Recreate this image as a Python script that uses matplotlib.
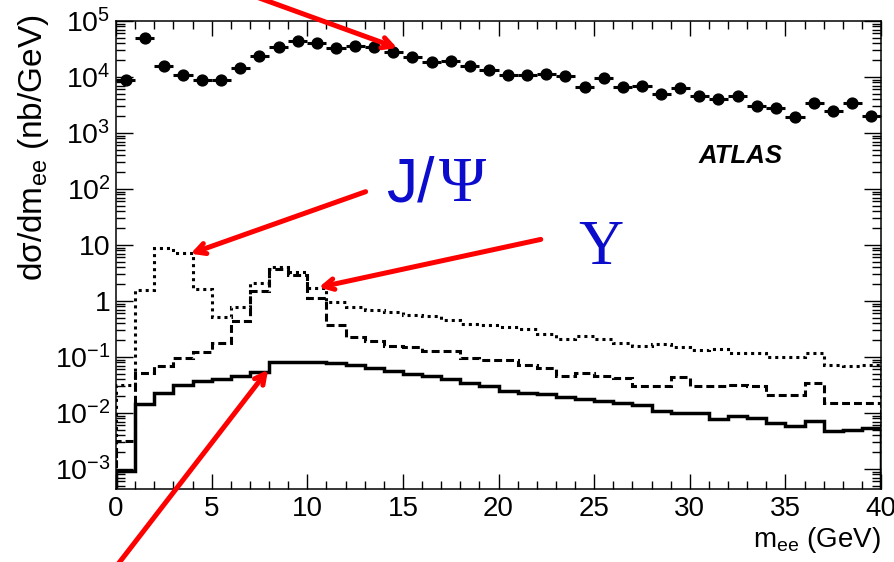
import numpy as np
import matplotlib
matplotlib.use("Agg")
import matplotlib.pyplot as plt
from matplotlib.ticker import MultipleLocator, LogLocator, FixedLocator, FuncFormatter, NullFormatter

plt.rcParams['font.family'] = ['Liberation Sans', 'DejaVu Sans']
plt.rcParams['mathtext.fontset'] = 'custom'
plt.rcParams['mathtext.rm'] = 'Liberation Sans'
plt.rcParams['mathtext.it'] = 'Liberation Sans:italic'

# 1 GeV bins from 0 to 40 GeV
bin_edges = np.arange(0, 41, 1)
bin_centers = 0.5 * (bin_edges[:-1] + bin_edges[1:])

# measured dielectron cross section (nb/GeV)
data_xsec = [8.8e3, 5.0e4, 1.6e4, 1.07e4, 8.8e3, 8.8e3, 1.43e4, 2.37e4, 3.5e4, 4.34e4,
             4.1e4, 3.3e4, 3.55e4, 3.4e4, 2.8e4, 2.3e4, 1.87e4, 1.93e4, 1.6e4, 1.33e4,
             1.09e4, 1.09e4, 1.13e4, 1.05e4, 6.5e3, 9.5e3, 6.5e3, 6.9e3, 4.9e3, 6.3e3,
             4.65e3, 4.05e3, 4.65e3, 3.0e3, 2.75e3, 1.95e3, 3.4e3, 2.45e3, 3.4e3, 2.0e3]

# J/psi contribution (dotted)
jpsi_xsec = [0.032, 1.6, 8.9, 7.3, 1.64, 0.51, 0.77, 2.07, 4.1, 3.25,
             1.73, 0.95, 0.77, 0.69, 0.64, 0.56, 0.54, 0.45, 0.39, 0.37,
             0.35, 0.32, 0.26, 0.21, 0.24, 0.21, 0.176, 0.16, 0.17, 0.148,
             0.133, 0.139, 0.117, 0.117, 0.099, 0.099, 0.117, 0.072, 0.068, 0.072]

# Upsilon contribution (dashed)
upsilon_xsec = [0.0032, 0.051, 0.070, 0.097, 0.121, 0.18, 0.44, 1.53, 3.7, 2.9,
                1.15, 0.38, 0.23, 0.19, 0.158, 0.152, 0.13, 0.13, 0.095, 0.089,
                0.089, 0.072, 0.063, 0.046, 0.051, 0.046, 0.042, 0.030, 0.030, 0.044,
                0.030, 0.030, 0.032, 0.030, 0.021, 0.021, 0.035, 0.0149, 0.0149, 0.0149]

# Drell-Yan contribution (solid)
dy_xsec = [9.3e-4, 0.0142, 0.023, 0.032, 0.037, 0.041, 0.046, 0.054, 0.080, 0.083,
           0.082, 0.079, 0.072, 0.063, 0.056, 0.049, 0.046, 0.040, 0.035, 0.030,
           0.025, 0.023, 0.022, 0.019, 0.0178, 0.0166, 0.0149, 0.0139, 0.011, 0.0102,
           0.0100, 0.0077, 0.0089, 0.0080, 0.0067, 0.0059, 0.0072, 0.0048, 0.0049, 0.0053]

y_decades = [-3, -2, -1, 0, 1, 2, 3, 4, 5]

fig = plt.figure(figsize=(8.94, 5.62), dpi=100)
ax = fig.add_axes([0.1298, 0.1299, 0.8557, 0.8327])

ax.stairs(jpsi_xsec, bin_edges, color='black', lw=2.2, linestyle=(0, (1.0, 1.3)))
ax.stairs(upsilon_xsec, bin_edges, color='black', lw=2.2, linestyle=(0, (2.6, 1.3)))
ax.stairs(dy_xsec, bin_edges, color='black', lw=2.5, linestyle='-')

ax.errorbar(bin_centers, data_xsec, xerr=0.5, fmt='o', color='black', ms=7.8,
            elinewidth=2.2, capsize=0)

ax.set_yscale('log')
ax.set_xlim(0, 40)
ax.set_ylim(10 ** -3.357, 1e5)

ax.xaxis.set_major_locator(MultipleLocator(5))
ax.xaxis.set_minor_locator(MultipleLocator(1))
ax.yaxis.set_major_locator(FixedLocator([10.0 ** d for d in y_decades]))
ax.yaxis.set_minor_locator(LogLocator(base=10, subs=np.arange(2, 10), numticks=100))
ax.yaxis.set_minor_formatter(NullFormatter())


def decade_label(v, pos):
    n = int(round(np.log10(v)))
    if n == 0:
        return '1'
    if n == 1:
        return '10'
    return r'$\mathregular{10^{%d}}$' % n


ax.yaxis.set_major_formatter(FuncFormatter(decade_label))

ax.tick_params(which='both', direction='in', top=True, right=True, width=1.0)
ax.tick_params(axis='x', which='major', length=10.5, labelsize=20, pad=5)
ax.tick_params(axis='x', which='minor', length=5.5)
ax.tick_params(axis='y', which='major', length=12, labelsize=20.5, pad=4)
ax.tick_params(axis='y', which='minor', length=6.5)
for s in ax.spines.values():
    s.set_linewidth(1.1)

ax.set_xlabel(r'm$_{\mathregular{ee}}$ (GeV)', fontsize=20, loc='right', labelpad=2)
ax.set_ylabel(r'd$\mathregular{\sigma}$/dm$_{\mathregular{ee}}$ (nb/GeV)', fontsize=24,
              loc='top')
ax.yaxis.set_label_coords(-0.085, 1.015)

ax.text(0.761, 0.697, 'ATLAS', transform=ax.transAxes, fontsize=18.5,
        fontweight='bold', fontstyle='italic', ha='left', va='baseline')

blue = '#0c0ccc'
ax.text(14.1, 61, 'J/', fontsize=45, color=blue, ha='left', va='baseline',
        family=['Liberation Sans'])
ax.annotate('\u03a8', xy=(14.1, 61), xycoords='data', xytext=(38, 0),
            textcoords='offset points', fontsize=46, color=blue, ha='left',
            va='baseline', family=['Liberation Serif'], annotation_clip=False)
ax.text(24.15, 4.57, '\u03a5', fontsize=45, color=blue, ha='left', va='baseline',
        family=['Liberation Serif'])

arrow = dict(arrowstyle='->,head_length=0.72,head_width=0.38', color='red', lw=3.6,
             shrinkA=0, shrinkB=0)
# data excess near 15 GeV
ax.annotate('', xy=(14.7, 3.3e4), xytext=(-160, 58), textcoords='offset pixels',
            arrowprops=arrow, annotation_clip=False)
# J/psi
ax.annotate('', xy=(3.9, 7.0), xytext=(175, 62), textcoords='offset pixels',
            arrowprops=arrow, annotation_clip=False)
# Upsilon
ax.annotate('', xy=(10.6, 1.75), xytext=(222, 48), textcoords='offset pixels',
            arrowprops=arrow, annotation_clip=False)
# Drell-Yan
ax.annotate('', xy=(7.95, 0.059), xytext=(-156, -202), textcoords='offset pixels',
            arrowprops=arrow, annotation_clip=False)

fig.savefig('out.png', dpi=100)
